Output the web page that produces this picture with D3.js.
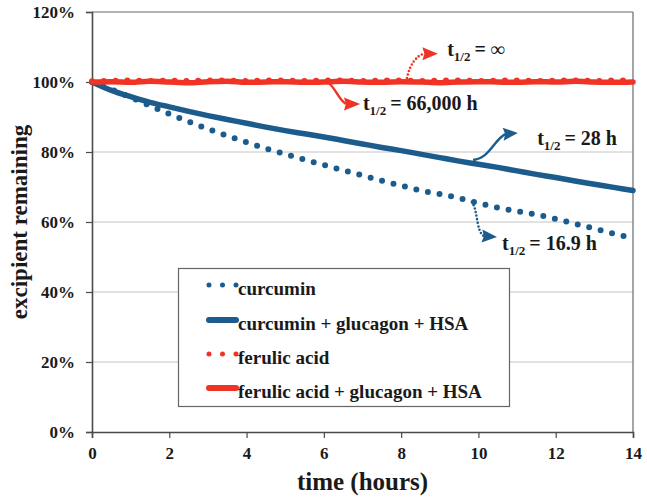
<!DOCTYPE html>
<html>
<head>
<meta charset="utf-8">
<script src="https://cdn.jsdelivr.net/npm/d3@7"></script>
<style>
  html, body { margin: 0; padding: 0; background: #fff; }
  svg { display: block; }
  text { font-family: "Liberation Serif", "Times New Roman", serif; font-weight: bold; fill: #1a1a1a; }
</style>
</head>
<body>
<svg id="chart" width="647" height="498"></svg>
<script>
// ---------- data ----------
const times = [0,0.5,1,1.5,2,2.5,3,3.5,4,4.5,5,5.5,6,6.5,7,7.5,8,8.5,9,9.5,10,10.5,11,11.5,12,12.5,13,13.5,14];

const curcumin = [100,97.9,95.6,93.2,90.9,88.7,86.6,84.6,82.8,81.0,79.4,77.8,76.3,74.8,73.3,71.8,70.4,69.0,68.0,66.8,65.4,64.1,63.1,62.1,60.9,59.5,58.1,56.7,55.4];

const curcuminGlucagonHSA = [100,97.6,95.8,94.2,92.9,91.6,90.4,89.3,88.2,87.1,86.1,85.2,84.3,83.3,82.3,81.3,80.4,79.4,78.4,77.4,76.5,75.6,74.6,73.6,72.7,71.7,70.8,69.9,69.0];

const ferulic = [100.2,100.3,100.4,100.3,100.4,100.3,100.4,100.4,100.3,100.4,100.4,100.3,100.4,100.4,100.3,100.4,100.4,100.3,100.4,100.4,100.3,100.4,100.4,100.3,100.4,100.4,100.3,100.4,100.4];

const ferulicGlucagonHSA = [100.0,100.1,99.9,100.2,100.0,99.8,100.1,100.2,99.9,100.0,100.1,99.9,100.0,100.2,100.0,99.9,100.1,100.0,99.8,100.0,100.1,100.0,99.9,100.1,100.0,100.2,100.0,99.9,100.0];

const seriesNames = ["curcumin", "curcumin + glucagon + HSA", "ferulic acid", "ferulic acid + glucagon + HSA"];
const xTicks = [0,2,4,6,8,10,12,14];
const yTicks = [0,20,40,60,80,100,120];
const xTitle = "time (hours)";
const yTitle = "excipient remaining";

// annotations (in data units: time, percent)
const annLabels = ["= ∞", "= 66,000 h", "= 28 h", "= 16.9 h"];
const annStart = [[8.15,101.1],[6.08,100.0],[9.86,77.7],[9.83,65.7]];
const annC1    = [[8.22,105.0],[6.29,98.9],[10.30,78.3],[9.99,63.4]];
const annC2    = [[8.40,107.6],[6.37,94.9],[10.40,83.4],[9.94,57.1]];
const annEnd   = [[8.55,108.1],[6.52,93.7],[10.64,85.1],[10.09,56.0]];
const annTip   = [[8.95,108.1],[6.94,93.7],[11.02,85.4],[10.48,55.7]];
const annText  = [[9.19,107.4],[7.01,92.0],[11.52,82.0],[10.61,52.0]];
const annSeries = [2, 3, 1, 0];

// ---------- styles ----------
const BLUE = "#1b5c8c";
const RED = "#ef3324";
const seriesColor = [BLUE, BLUE, RED, RED];
const seriesDotted = [true, false, true, false];

const svg = d3.select("#chart");
const x = d3.scaleLinear().domain([0, 14]).range([92, 633]);
const y = d3.scaleLinear().domain([0, 120]).range([432, 12]);

// gridlines
svg.append("g").selectAll("line").data(yTicks.filter(d => d > 0 && d < 120)).join("line")
  .attr("x1", x(0)).attr("x2", x(14))
  .attr("y1", d => y(d)).attr("y2", d => y(d))
  .attr("stroke", "#c4c4c4").attr("stroke-width", 1);

// frame top/right
svg.append("line").attr("x1", x(0)).attr("x2", x(14)).attr("y1", y(120)).attr("y2", y(120))
  .attr("stroke", "#6a6a6a").attr("stroke-width", 1.2);
svg.append("line").attr("x1", x(14)).attr("x2", x(14)).attr("y1", y(120)).attr("y2", y(0))
  .attr("stroke", "#6a6a6a").attr("stroke-width", 1.2);

// axes
const yAxis = d3.axisLeft(y).tickValues(yTicks).tickFormat(d => d + "%").tickSize(6).tickPadding(11);
const gy = svg.append("g").attr("transform", `translate(${x(0)},0)`).call(yAxis);
gy.select(".domain").attr("stroke", "#4a4a4a").attr("stroke-width", 1.6);
gy.selectAll(".tick line").attr("stroke", "#4a4a4a").attr("stroke-width", 1.2);
gy.selectAll(".tick text").style("font-size", "17px").attr("fill", "#1a1a1a")
  .style("font-family", '"Liberation Serif", serif').style("font-weight", "bold");

const xAxis = d3.axisBottom(x).tickValues(xTicks).tickFormat(d => d).tickSize(6).tickPadding(9);
const gx = svg.append("g").attr("transform", `translate(0,${y(0)})`).call(xAxis);
gx.select(".domain").attr("stroke", "#4a4a4a").attr("stroke-width", 1.6);
gx.selectAll(".tick line").attr("stroke", "#4a4a4a").attr("stroke-width", 1.2);
gx.selectAll(".tick text").style("font-size", "17px").attr("fill", "#1a1a1a")
  .style("font-family", '"Liberation Serif", serif').style("font-weight", "bold");

// titles
svg.append("text").attr("x", (x(0) + x(14)) / 2).attr("y", 490).attr("text-anchor", "middle")
  .style("font-size", "25px").text(xTitle);
svg.append("text").attr("transform", `translate(27,${(y(0) + y(120)) / 2}) rotate(-90)`)
  .attr("text-anchor", "middle").style("font-size", "23px").text(yTitle);

// series
const allSeries = [curcumin, curcuminGlucagonHSA, ferulic, ferulicGlucagonHSA];
const line = d3.line().x((d, i) => x(times[i])).y(d => y(d)).curve(d3.curveMonotoneX);
const drawOrder = [1, 0, 3, 2];
drawOrder.forEach(si => {
  const p = svg.append("path").datum(allSeries[si]).attr("d", line)
    .attr("fill", "none").attr("stroke", seriesColor[si]).attr("stroke-linecap", "round").attr("stroke-linejoin", "round");
  if (seriesDotted[si]) p.attr("stroke-width", 6).attr("stroke-dasharray", "0 11.8");
  else p.attr("stroke-width", 5.5);
});

// annotations
annLabels.forEach((lab, i) => {
  const si = annSeries[i];
  const col = seriesColor[si];
  const P = a => [x(a[0]), y(a[1])];
  const s = P(annStart[i]), c1 = P(annC1[i]), c2 = P(annC2[i]), e = P(annEnd[i]), t = P(annTip[i]);
  const path = d3.path();
  path.moveTo(s[0], s[1]);
  path.bezierCurveTo(c1[0], c1[1], c2[0], c2[1], e[0] + 2, e[1]);
  const st = svg.append("path").attr("d", path.toString()).attr("fill", "none").attr("stroke", col);
  if (seriesDotted[si]) st.attr("stroke-width", 2.6).attr("stroke-dasharray", "0 3.6").attr("stroke-linecap", "round");
  else st.attr("stroke-width", 2.4);
  // arrow head
  const ang = Math.atan2(t[1] - e[1], t[0] - e[0]);
  const hw = 6.5;
  const nx = -Math.sin(ang) * hw, ny = Math.cos(ang) * hw;
  const head = d3.path();
  head.moveTo(t[0], t[1]);
  head.lineTo(e[0] + nx, e[1] + ny);
  head.lineTo(e[0] + 2 * Math.cos(ang), e[1] + 2 * Math.sin(ang));
  head.lineTo(e[0] - nx, e[1] - ny);
  head.closePath();
  svg.append("path").attr("d", head.toString()).attr("fill", col);
  // label
  const tp = P(annText[i]);
  const tx = svg.append("text").attr("x", tp[0]).attr("y", tp[1]).style("font-size", "20px");
  tx.append("tspan").text("t");
  tx.append("tspan").attr("dy", 5).style("font-size", "13px").text("1/2");
  tx.append("tspan").attr("dy", -5).attr("dx", 4).text(lab);
});

// legend
const lg = svg.append("g");
lg.append("rect").attr("x", 178.5).attr("y", 268.5).attr("width", 331).attr("height", 138)
  .attr("fill", "#fff").attr("stroke", "#666").attr("stroke-width", 1.2);
const rowY = [285, 320, 354, 388];
seriesNames.forEach((name, i) => {
  const yy = rowY[i];
  if (seriesDotted[i]) {
    lg.append("line").attr("x1", 209).attr("x2", 237).attr("y1", yy).attr("y2", yy)
      .attr("stroke", seriesColor[i]).attr("stroke-width", 5).attr("stroke-linecap", "round")
      .attr("stroke-dasharray", "0 13.5");
  } else {
    lg.append("line").attr("x1", 209).attr("x2", 236).attr("y1", yy).attr("y2", yy)
      .attr("stroke", seriesColor[i]).attr("stroke-width", 6).attr("stroke-linecap", "round");
  }
  lg.append("text").attr("x", 238).attr("y", yy + 10).style("font-size", "19px").text(name);
});
</script>
</body>
</html>
